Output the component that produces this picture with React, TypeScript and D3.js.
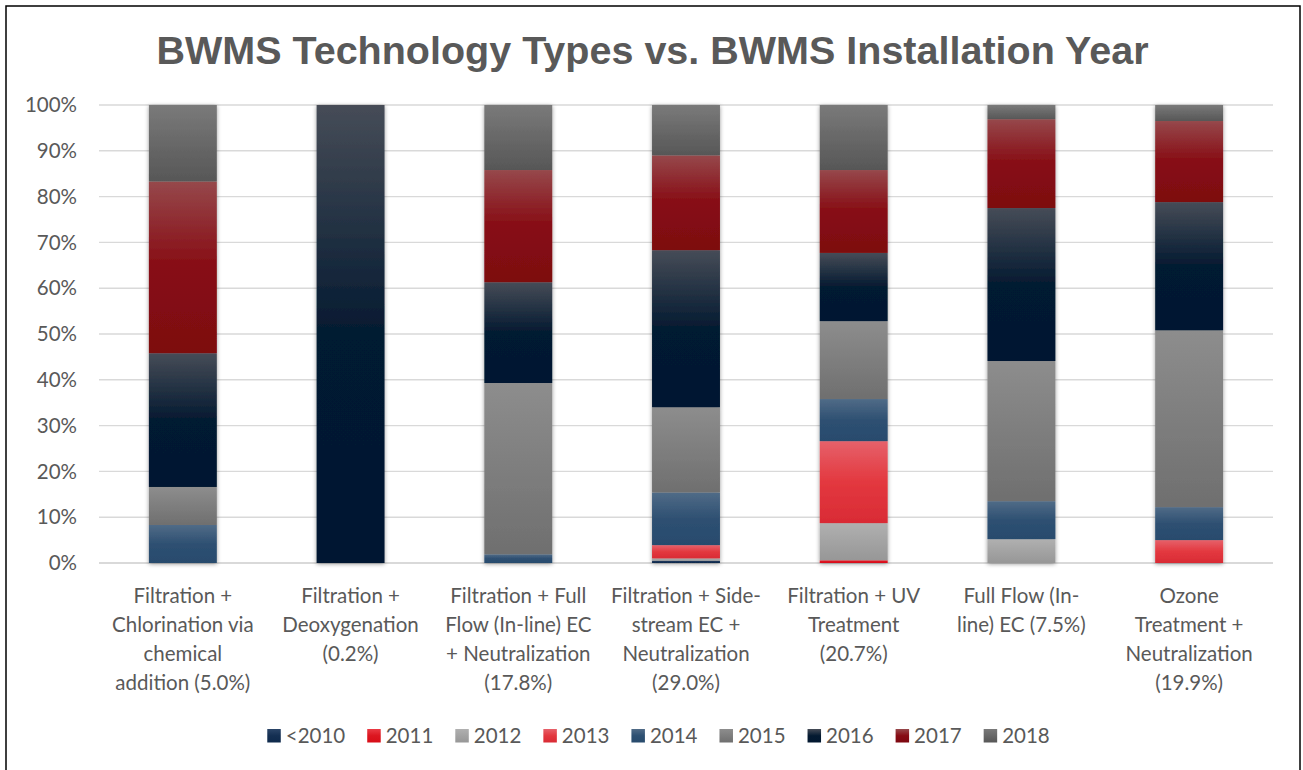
import React, { useEffect, useRef } from "react";
import * as d3 from "d3";

const title = "BWMS Technology Types vs. BWMS Installation Year";

const categoryLines: string[][] = [
  ["Filtration +", "Chlorination via", "chemical", "addition (5.0%)"],
  ["Filtration +", "Deoxygenation", "(0.2%)"],
  ["Filtration + Full", "Flow (In-line) EC", "+ Neutralization", "(17.8%)"],
  ["Filtration + Side-", "stream EC +", "Neutralization", "(29.0%)"],
  ["Filtration + UV", "Treatment", "(20.7%)"],
  ["Full Flow (In-", "line) EC (7.5%)"],
  ["Ozone", "Treatment +", "Neutralization", "(19.9%)"],
];

const seriesNames = ["<2010", "2011", "2012", "2013", "2014", "2015", "2016", "2017", "2018"];

const vBefore2010 = [0, 0, 0, 0.5, 0, 0, 0];
const v2011 = [0, 0, 0, 0, 0.6, 0, 0];
const v2012 = [0, 0, 0, 0.5, 8.1, 5.2, 0];
const v2013 = [0, 0, 0, 2.9, 17.9, 0, 5.0];
const v2014 = [8.3, 0, 1.9, 11.5, 9.2, 8.3, 7.2];
const v2015 = [8.3, 0, 37.4, 18.6, 17.0, 30.6, 38.6];
const v2016 = [29.2, 100, 22.0, 34.3, 14.9, 33.4, 28.0];
const v2017 = [37.5, 0, 24.5, 20.7, 18.1, 19.4, 17.7];
const v2018 = [16.7, 0, 14.2, 11.0, 14.2, 3.1, 3.5];

const seriesValues = [vBefore2010, v2011, v2012, v2013, v2014, v2015, v2016, v2017, v2018];

const yTicks = [0, 10, 20, 30, 40, 50, 60, 70, 80, 90, 100];

// gradient stops per series: [top, middle, bottom]
const seriesGradients: [string, string, string][] = [
  ["#2b4568", "#142f52", "#0f2a4c"],
  ["#ea3a44", "#dc1620", "#d80e18"],
  ["#b0b0b0", "#a3a3a3", "#979797"],
  ["#e6616a", "#e3383f", "#d92b35"],
  ["#506b87", "#2e5072", "#284b6d"],
  ["#8d8d8d", "#7e7e7e", "#6f6f6f"],
  ["#464c57", "#041a31", "#021830"],
  ["#96484b", "#870c14", "#7d0710"],
  ["#7a7a7a", "#686868", "#575757"],
];

const TEXT = "#595959";
const FONT = "Lato, 'Open Sans', sans-serif";

export default function App() {
  const ref = useRef<SVGSVGElement>(null);

  useEffect(() => {
    const svg = d3.select(ref.current);
    svg.selectAll("*").remove();

    const W = 1303, H = 770;
    const left = 99, right = 1273, top = 105, bottom = 563;

    svg.append("rect").attr("x", 0).attr("y", 0).attr("width", W).attr("height", H).attr("fill", "#fff");
    svg.append("rect").attr("x", 6).attr("y", 6).attr("width", 1294).attr("height", 775)
      .attr("fill", "none").attr("stroke", "#000").attr("stroke-width", 1.5);

    const defs = svg.append("defs");
    seriesGradients.forEach((g, i) => {
      const lg = defs.append("linearGradient").attr("id", `grad${i}`)
        .attr("x1", 0).attr("y1", 0).attr("x2", 0).attr("y2", 1);
      lg.append("stop").attr("offset", "0%").attr("stop-color", g[0]);
      lg.append("stop").attr("offset", "50%").attr("stop-color", g[1]);
      lg.append("stop").attr("offset", "100%").attr("stop-color", g[2]);
    });
    const f = defs.append("filter").attr("id", "shadow")
      .attr("x", "-30%").attr("y", "-10%").attr("width", "160%").attr("height", "120%");
    f.append("feDropShadow").attr("dx", 0).attr("dy", 1).attr("stdDeviation", 2.2)
      .attr("flood-color", "#000").attr("flood-opacity", 0.4);

    // title
    svg.append("text").attr("x", 652.5).attr("y", 64).attr("text-anchor", "middle")
      .attr("font-family", "'Liberation Sans', Arial, sans-serif").attr("font-weight", "bold")
      .attr("font-size", 39.5).attr("fill", TEXT).text(title);

    const x = d3.scaleBand<number>().domain(d3.range(categoryLines.length)).range([left, right])
      .paddingInner(0.595).paddingOuter(0.2975);
    const y = d3.scaleLinear().domain([0, 100]).range([bottom, top]);

    // gridlines
    svg.append("g").selectAll("line").data(yTicks).join("line")
      .attr("x1", left).attr("x2", right)
      .attr("y1", (d) => y(d)).attr("y2", (d) => y(d))
      .attr("stroke", "#d9d9d9").attr("stroke-width", (d) => (d === 0 ? 2 : 1.4));

    // tick labels
    svg.append("g").selectAll("text").data(yTicks).join("text")
      .attr("x", 77).attr("y", (d) => y(d)).attr("dy", "0.35em").attr("text-anchor", "end")
      .attr("font-family", FONT).attr("font-size", 20.5).attr("fill", TEXT)
      .text((d) => `${d}%`);

    // stacked data
    const rows = categoryLines.map((_, ci) => {
      const r: Record<string, number> = {};
      seriesNames.forEach((s, si) => (r[s] = seriesValues[si][ci]));
      return r;
    });
    const stacked = d3.stack<Record<string, number>>().keys(seriesNames)(rows);

    const barsG = svg.append("g");
    categoryLines.forEach((_, ci) => {
      const g = barsG.append("g").attr("filter", "url(#shadow)");
      stacked.forEach((layer, si) => {
        const [y0, y1] = layer[ci];
        if (y1 - y0 <= 0) return;
        g.append("rect")
          .attr("x", x(ci)!)
          .attr("width", x.bandwidth())
          .attr("y", y(y1))
          .attr("height", y(y0) - y(y1))
          .attr("fill", `url(#grad${si})`);
      });
    });

    // category labels
    categoryLines.forEach((lines, ci) => {
      const cx = x(ci)! + x.bandwidth() / 2;
      const t = svg.append("text").attr("text-anchor", "middle")
        .attr("font-family", FONT).attr("font-size", 20.5).attr("fill", TEXT);
      lines.forEach((ln, li) => {
        t.append("tspan").attr("x", cx).attr("y", 603 + li * 29).text(ln);
      });
    });

    // legend
    const lg = svg.append("g");
    const items = seriesNames.map((name, i) => {
      const it = lg.append("g");
      it.append("rect").attr("x", 0).attr("y", 729).attr("width", 13.5).attr("height", 13.5)
        .attr("fill", `url(#grad${i})`);
      const tx = it.append("text").attr("x", 18.5).attr("y", 743)
        .attr("font-family", FONT).attr("font-size", 20.5).attr("fill", TEXT).text(name);
      const w = (tx.node() as SVGTextElement).getComputedTextLength();
      return { it, w: 18.5 + w };
    });
    const gap = 22;
    const total = d3.sum(items, (d) => d.w) + gap * (items.length - 1);
    let cur = 264 + (1053 - 264 - total) / 2;
    items.forEach((d) => {
      d.it.attr("transform", `translate(${cur},0)`);
      cur += d.w + gap;
    });
  }, []);

  return (
    <div style={{ position: "absolute", left: 0, top: 0 }}>
      <svg ref={ref} width={1303} height={770} style={{ display: "block" }} />
    </div>
  );
}
